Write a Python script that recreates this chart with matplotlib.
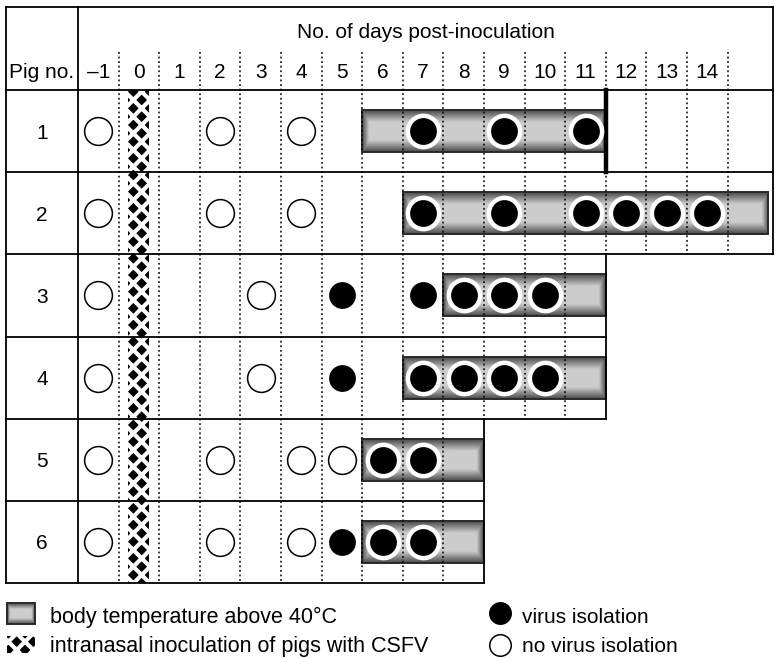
import matplotlib
import numpy as np

matplotlib.use("Agg")
import matplotlib.pyplot as plt
from matplotlib.patches import Rectangle

plt.rcParams["font.family"] = ["Liberation Sans", "DejaVu Sans"]
plt.rcParams["hatch.linewidth"] = 3.0

# data
days = list(range(-1, 15))
day_labels = ["\u20131"] + [str(d) for d in range(0, 15)]
pigs = [1, 2, 3, 4, 5, 6]
no_virus_days = [[-1, 2, 4], [-1, 2, 4], [-1, 3], [-1, 3], [-1, 2, 4, 5], [-1, 2, 4]]
virus_days = [[7, 9, 11], [7, 9, 11, 12, 13, 14], [5, 7, 8, 9, 10], [5, 7, 8, 9, 10], [6, 7], [5, 6, 7]]
fever_first = [6, 7, 8, 7, 6, 6]
fever_last = [11, 15, 11, 11, 8, 8]
last_day = [11, 15, 11, 11, 8, 8]
inoculation_day = 0

# layout (one column = 40.6 px, one row = 82.17 px)
COL_W, ROW_H = 40.6, 82.17
X0 = -1.5 - 78 / COL_W
X1 = X0 + 775 / COL_W
Y0 = 0.5 - 90 / ROW_H
Y1 = Y0 + 659 / ROW_H
LEFT = X0 + 6 / COL_W
RIGHT = X0 + 773 / COL_W
TOP = Y0 + 7 / ROW_H
DOT_TOP = Y0 + 52 / ROW_H
HALF = 0.255
LW = 1.3
FS = 15


def fever_bar(ax, x0, x1, yc, half=HALF, edge_w=0.3):
    width = x1 - x0
    ny, nx = 40, max(int(width * 40), 10)
    yy = np.linspace(-1, 1, ny)[:, None]
    xx = np.linspace(0, width, nx)[None, :]
    dy = 1 - np.abs(yy)
    dx = np.minimum(xx, width - xx) / edge_w
    d = np.clip(np.minimum(dy, dx) * 1.8, 0, 1)
    shade = 0.3 + 0.5 * d
    ax.imshow(shade, cmap="gray", vmin=0, vmax=1, extent=(x0, x1, yc + half, yc - half),
              aspect="auto", interpolation="bilinear", zorder=2)
    ax.add_patch(Rectangle((x0, yc - half), width, 2 * half, fill=False, ec="#2a2a2a", lw=1.4, zorder=3))


fig = plt.figure(figsize=(7.75, 6.59), dpi=100)
ax = fig.add_axes([0, 0, 1, 1])

# fever bars
for pig, first, last in zip(pigs, fever_first, fever_last):
    fever_bar(ax, first - 0.5, min(last + 0.5, RIGHT), pig)

# inoculation band
ax.add_patch(Rectangle((inoculation_day - 0.27, 0.5), 0.53, len(pigs), facecolor="black",
                       edgecolor="white", hatch="xx", lw=0, zorder=2))

# row extents
row_right = [RIGHT if d >= 14 else d + 0.5 for d in last_day]
row_right[0] = RIGHT

# dotted day separators
for b in np.arange(-0.5, 15, 1.0):
    bottom = max([p + 0.5 for p, r in zip(pigs, row_right) if r > b + 0.01], default=0.5)
    ax.plot([b, b], [DOT_TOP, bottom], color="black", lw=1.1, ls=(0, (1.2, 1.8)), zorder=4)

# solid outline
ax.plot([LEFT, RIGHT], [TOP, TOP], color="black", lw=LW, zorder=5)
ax.plot([LEFT, LEFT], [TOP, 6.5], color="black", lw=LW, zorder=5)
ax.plot([-1.5, -1.5], [TOP, 6.5], color="black", lw=LW, zorder=5)
ax.plot([LEFT, RIGHT], [0.5, 0.5], color="black", lw=LW, zorder=5)
for pig, r in zip(pigs, row_right):
    ax.plot([LEFT, r], [pig + 0.5, pig + 0.5], color="black", lw=LW, zorder=5)
    ax.plot([r, r], [pig - 0.5, pig + 0.5], color="black", lw=LW, zorder=5)
ax.plot([RIGHT, RIGHT], [TOP, 0.5], color="black", lw=LW, zorder=5)
# death of pig 1
ax.plot([last_day[0] + 0.5] * 2, [0.5, 1.5], color="black", lw=3.2, zorder=5)

# sampling results
for pig, opens, fills in zip(pigs, no_virus_days, virus_days):
    ax.plot(opens, [pig] * len(opens), "o", ms=20, mfc="white", mec="black", mew=1.1, zorder=6)
    ax.plot(fills, [pig] * len(fills), "o", ms=22.5, mfc="black", mec="white", mew=3.2, zorder=6)

# header text
ax.text((-1.5 + RIGHT) / 2, Y0 + 38 / ROW_H, "No. of days post-inoculation", ha="center", va="baseline", fontsize=FS)
for d, lab in zip(days, day_labels):
    ax.text(d, Y0 + 78 / ROW_H, lab, ha="center", va="baseline", fontsize=FS)
ax.text((LEFT - 1.5) / 2, Y0 + 78 / ROW_H, "Pig no.", ha="center", va="baseline", fontsize=FS)
for pig in pigs:
    ax.text((LEFT - 1.5) / 2, pig + 7.5 / ROW_H, str(pig), ha="center", va="baseline", fontsize=FS)

# legend
ly1, ly2 = Y0 + 623 / ROW_H, Y0 + 652 / ROW_H
sx0, sx1 = X0 + 7 / COL_W, X0 + 35 / COL_W
fever_bar(ax, sx0, sx1, Y0 + 613.5 / ROW_H, half=10.5 / ROW_H, edge_w=0.12)
ax.add_patch(Rectangle((sx0, Y0 + 636 / ROW_H), sx1 - sx0, 17 / ROW_H, facecolor="black", edgecolor="white",
                       hatch="xx", lw=0, zorder=2))
tx = X0 + 50 / COL_W
ax.text(tx, ly1, "body temperature above 40\u00b0C", ha="left", va="baseline", fontsize=15.5)
ax.text(tx, ly2, "intranasal inoculation of pigs with CSFV", ha="left", va="baseline", fontsize=15.5)
cx = X0 + 500 / COL_W
ax.plot([cx], [Y0 + 613 / ROW_H], "o", ms=15.5, mfc="black", mec="black", zorder=6)
ax.plot([cx], [Y0 + 645 / ROW_H], "o", ms=15.5, mfc="white", mec="black", mew=1.1, zorder=6)
ax.text(X0 + 522 / COL_W, ly1, "virus isolation", ha="left", va="baseline", fontsize=15)
ax.text(X0 + 522 / COL_W, ly2, "no virus isolation", ha="left", va="baseline", fontsize=15)

ax.set_xlim(X0, X1)
ax.set_ylim(Y1, Y0)
ax.axis("off")
fig.savefig("out.png", dpi=100)
